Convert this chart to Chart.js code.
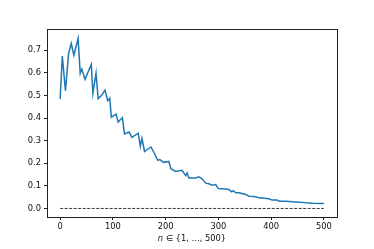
<!DOCTYPE html>
<html>
<head>
<meta charset="utf-8">
<script src="https://cdn.jsdelivr.net/npm/chart.js@4.4.1/dist/chart.umd.min.js"></script>
<style>
html,body{margin:0;padding:0;background:#fff;}
#wrap{width:374px;height:249px;position:relative;}
</style>
</head>
<body>
<div id="wrap"><canvas id="c" width="374" height="249"></canvas></div>
<script>
// Data
const nValues = [0, 4, 10, 16, 21, 26, 34, 38, 41, 47, 59, 62, 68, 72, 79, 85, 90, 94, 97, 106, 110, 118, 122, 131, 136, 148, 152, 155, 160, 172, 177, 185, 189, 196, 206, 210, 219, 231, 238, 241, 244, 257, 263, 269, 276, 282, 288, 295, 300, 308, 320, 325, 328, 333, 339, 352, 358, 371, 377, 396, 402, 411, 416, 428, 440, 453, 466, 479, 500];
const seriesValues = [0.485, 0.674, 0.521, 0.686, 0.730, 0.678, 0.752, 0.598, 0.617, 0.571, 0.637, 0.510, 0.598, 0.485, 0.502, 0.524, 0.477, 0.488, 0.404, 0.417, 0.382, 0.402, 0.330, 0.338, 0.314, 0.333, 0.275, 0.310, 0.252, 0.272, 0.252, 0.213, 0.216, 0.204, 0.208, 0.176, 0.164, 0.169, 0.145, 0.157, 0.135, 0.135, 0.140, 0.131, 0.112, 0.109, 0.103, 0.106, 0.088, 0.087, 0.084, 0.074, 0.079, 0.069, 0.069, 0.062, 0.054, 0.052, 0.047, 0.043, 0.037, 0.037, 0.032, 0.032, 0.030, 0.028, 0.025, 0.023, 0.022];
const baselineN = [0, 500];
const baselineValues = [0, 0];
const xTickValues = [0, 100, 200, 300, 400, 500];
const yTickValues = [0.0, 0.1, 0.2, 0.3, 0.4, 0.5, 0.6, 0.7];
const xLabelItalic = "n";
const xLabelRest = " \u2208 {1, \u2026, 500}";

const FONT = "'DejaVu Sans', sans-serif";

const framePlugin = {
  id: 'frame',
  afterDraw(chart) {
    const {ctx, chartArea: a} = chart;
    ctx.save();
    ctx.strokeStyle = '#222';
    ctx.lineWidth = 1;
    ctx.strokeRect(Math.round(a.left) + 0.5, Math.round(a.top) + 0.5, Math.round(a.right - a.left), Math.round(a.bottom - a.top));
    // x-axis label with italic n
    ctx.fillStyle = '#111';
    ctx.textBaseline = 'middle';
    const fItal = "italic 8.3px " + FONT;
    const fNorm = "8.3px " + FONT;
    ctx.font = fItal;
    const w1 = ctx.measureText(xLabelItalic).width;
    ctx.font = fNorm;
    const w2 = ctx.measureText(xLabelRest).width;
    const cx = (a.left + a.right) / 2;
    const x0 = cx - (w1 + w2) / 2;
    const y = 239;
    ctx.textAlign = 'left';
    ctx.font = fItal;
    ctx.fillText(xLabelItalic, x0, y);
    ctx.font = fNorm;
    ctx.fillText(xLabelRest, x0 + w1, y);
    ctx.restore();
  }
};

new Chart(document.getElementById('c'), {
  type: 'line',
  data: {
    datasets: [
      {
        data: nValues.map((n, i) => ({x: n, y: seriesValues[i]})),
        borderColor: '#1f77b4',
        borderWidth: 1.5,
        pointRadius: 0,
        tension: 0,
        fill: false
      },
      {
        data: baselineN.map((n, i) => ({x: n, y: baselineValues[i]})),
        borderColor: '#000',
        borderWidth: 0.8,
        borderDash: [3, 1.5],
        pointRadius: 0,
        fill: false
      }
    ]
  },
  options: {
    responsive: false,
    animation: false,
    events: [],
    layout: {padding: {left: 0, top: 29, right: 37, bottom: 0}},
    plugins: {legend: {display: false}, tooltip: {enabled: false}},
    scales: {
      x: {
        type: 'linear',
        min: -25,
        max: 525,
        afterFit(scale) { scale.height = 32; },
        afterBuildTicks(scale) { scale.ticks = xTickValues.map(v => ({value: v})); },
        grid: {display: true, drawOnChartArea: false, drawTicks: true, tickLength: 3, color: '#222', tickWidth: 1},
        border: {display: false},
        ticks: {
          color: '#111', padding: 2, maxRotation: 0, autoSkip: false,
          font: {family: FONT, size: 8.3},
          callback: v => String(v)
        }
      },
      y: {
        min: -0.0378,
        max: 0.794,
        afterFit(scale) { scale.width = 47; },
        afterBuildTicks(scale) { scale.ticks = yTickValues.map(v => ({value: v})); },
        grid: {display: true, drawOnChartArea: false, drawTicks: true, tickLength: 3, color: '#222', tickWidth: 1},
        border: {display: false},
        ticks: {
          color: '#111', padding: 3, autoSkip: false,
          font: {family: FONT, size: 8.3},
          callback: v => Number(v).toFixed(1)
        }
      }
    }
  },
  plugins: [framePlugin]
});
</script>
</body>
</html>
